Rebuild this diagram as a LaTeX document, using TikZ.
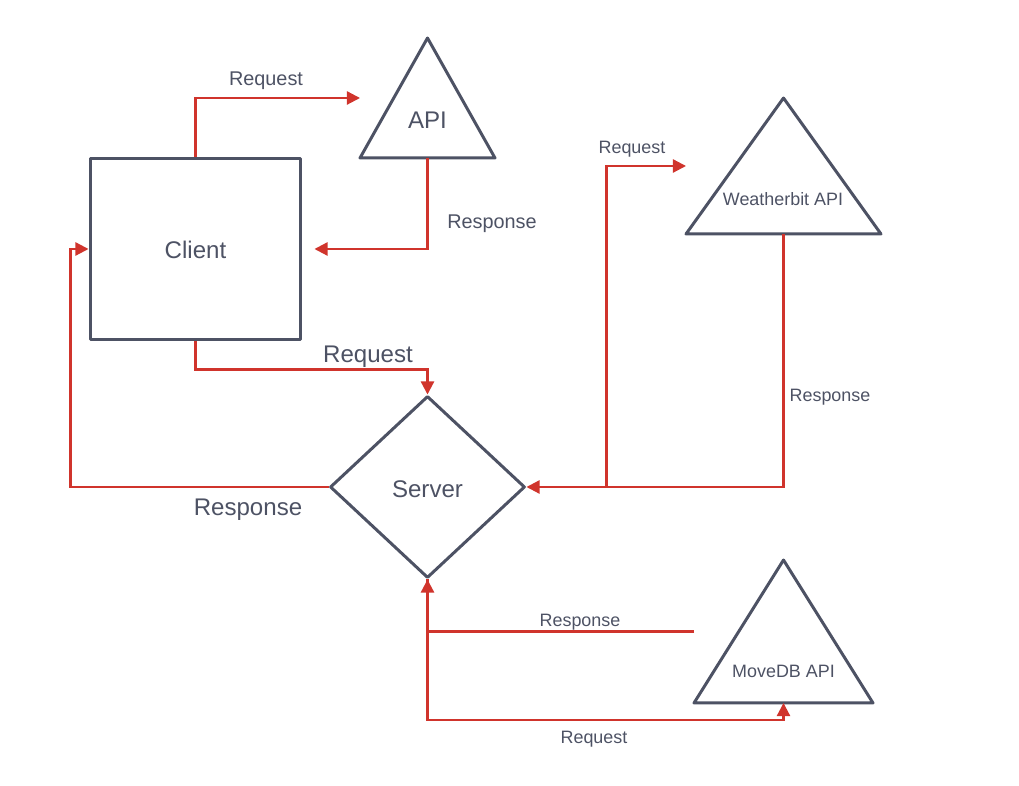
\documentclass[tikz,border=0pt]{standalone}
\usepackage{fontspec}
\setmainfont{Liberation Sans}
\usetikzlibrary{shapes.geometric, arrows.meta, positioning, calc}
\definecolor{SlateInk}{HTML}{4D5264}
\definecolor{LinkRed}{HTML}{D0342C}
\tikzset{
  shapeline/.style={draw=SlateInk, line width=1.7pt, line join=round},
  clientbox/.style={rectangle, shapeline, minimum width=4.22cm, minimum height=3.64cm, inner sep=0pt},
  serverbox/.style={diamond, shapeline, minimum width=3.9cm, minimum height=3.64cm, inner sep=0pt},
  apibox/.style={rectangle, inner sep=0pt, outer sep=0pt},
  bigtext/.style={text=SlateInk, font=\fontsize{13.7}{16}\selectfont, inner sep=0pt},
  midtext/.style={text=SlateInk, font=\fontsize{11.3}{13}\selectfont, inner sep=0pt},
  smalltext/.style={text=SlateInk, font=\fontsize{10.2}{12}\selectfont, inner sep=0pt},
  link/.style={draw=LinkRed, line width=1.25pt, -{Triangle[length=7.5pt, width=7.5pt]}},
  plainlink/.style={draw=LinkRed, line width=1.25pt}
}
\begin{document}
\begin{tikzpicture}[x=0.02cm, y=-0.02cm]
  \useasboundingbox (0,0) rectangle (1019,786);

  % Shapes
  \node[clientbox] (client) at (195.5,249) {};
  \node[bigtext] (client-text) at (195.5,250) {Client};
  \node[serverbox] (server) at (427.5,487) {};
  \node[bigtext] (server-text) at (427.5,489) {Server};
  \node[apibox, minimum width=2.7cm, minimum height=2.4cm] (api) at (427.5,98) {};
  \node[apibox, minimum width=3.9cm, minimum height=2.72cm] (weather) at (783.5,166) {};
  \node[apibox, minimum width=3.58cm, minimum height=2.86cm] (movedb) at (783.5,631.5) {};
  \foreach \n in {api,weather,movedb}
    \draw[shapeline] (\n.south west) -- (\n.north) -- (\n.south east) -- cycle;
  \node[bigtext] (api-text) at (427.5,120) {API};
  \node[smalltext] (weather-text) at (783,199) {Weatherbit API};
  \node[smalltext] (movedb-text) at (783.5,671) {MoveDB API};

  % Client <-> API
  \draw[link] (client.north) |- (api.west);
  \draw[link] (api.south) |- ([xshift=0.24cm]client.east);
  \node[midtext] (l-req1) at (266,81) {Request};
  \node[midtext] (l-res1) at (492,224) {Response};

  % Client <-> Server
  \draw[link] (client.south) -- ++(0,28) -| (server.north);
  \draw[link] (server.west) -| ([xshift=-0.36cm]client.west) -- (client.west);
  \node[bigtext] (l-req2) at (368,357) {Request};
  \node[bigtext] (l-res2) at (248,510) {Response};

  % Server <-> Weatherbit API
  \coordinate (wsplit) at ([xshift=1.6cm]server.east);
  \draw[link] (weather.south) |- (server.east);
  \draw[link] (wsplit) |- (weather.west);
  \node[smalltext] (l-req3) at (632,149) {Request};
  \node[smalltext] (l-res3) at (830,397) {Response};

  % Server <-> MoveDB API
  \draw[link] (server.south) |- ([yshift=-0.34cm]movedb.south) -- (movedb.south);
  \draw[link] (movedb.west) -| (server.south);
  \node[smalltext] (l-res4) at (580,622) {Response};
  \node[smalltext] (l-req4) at (594,739) {Request};
\end{tikzpicture}
\end{document}
